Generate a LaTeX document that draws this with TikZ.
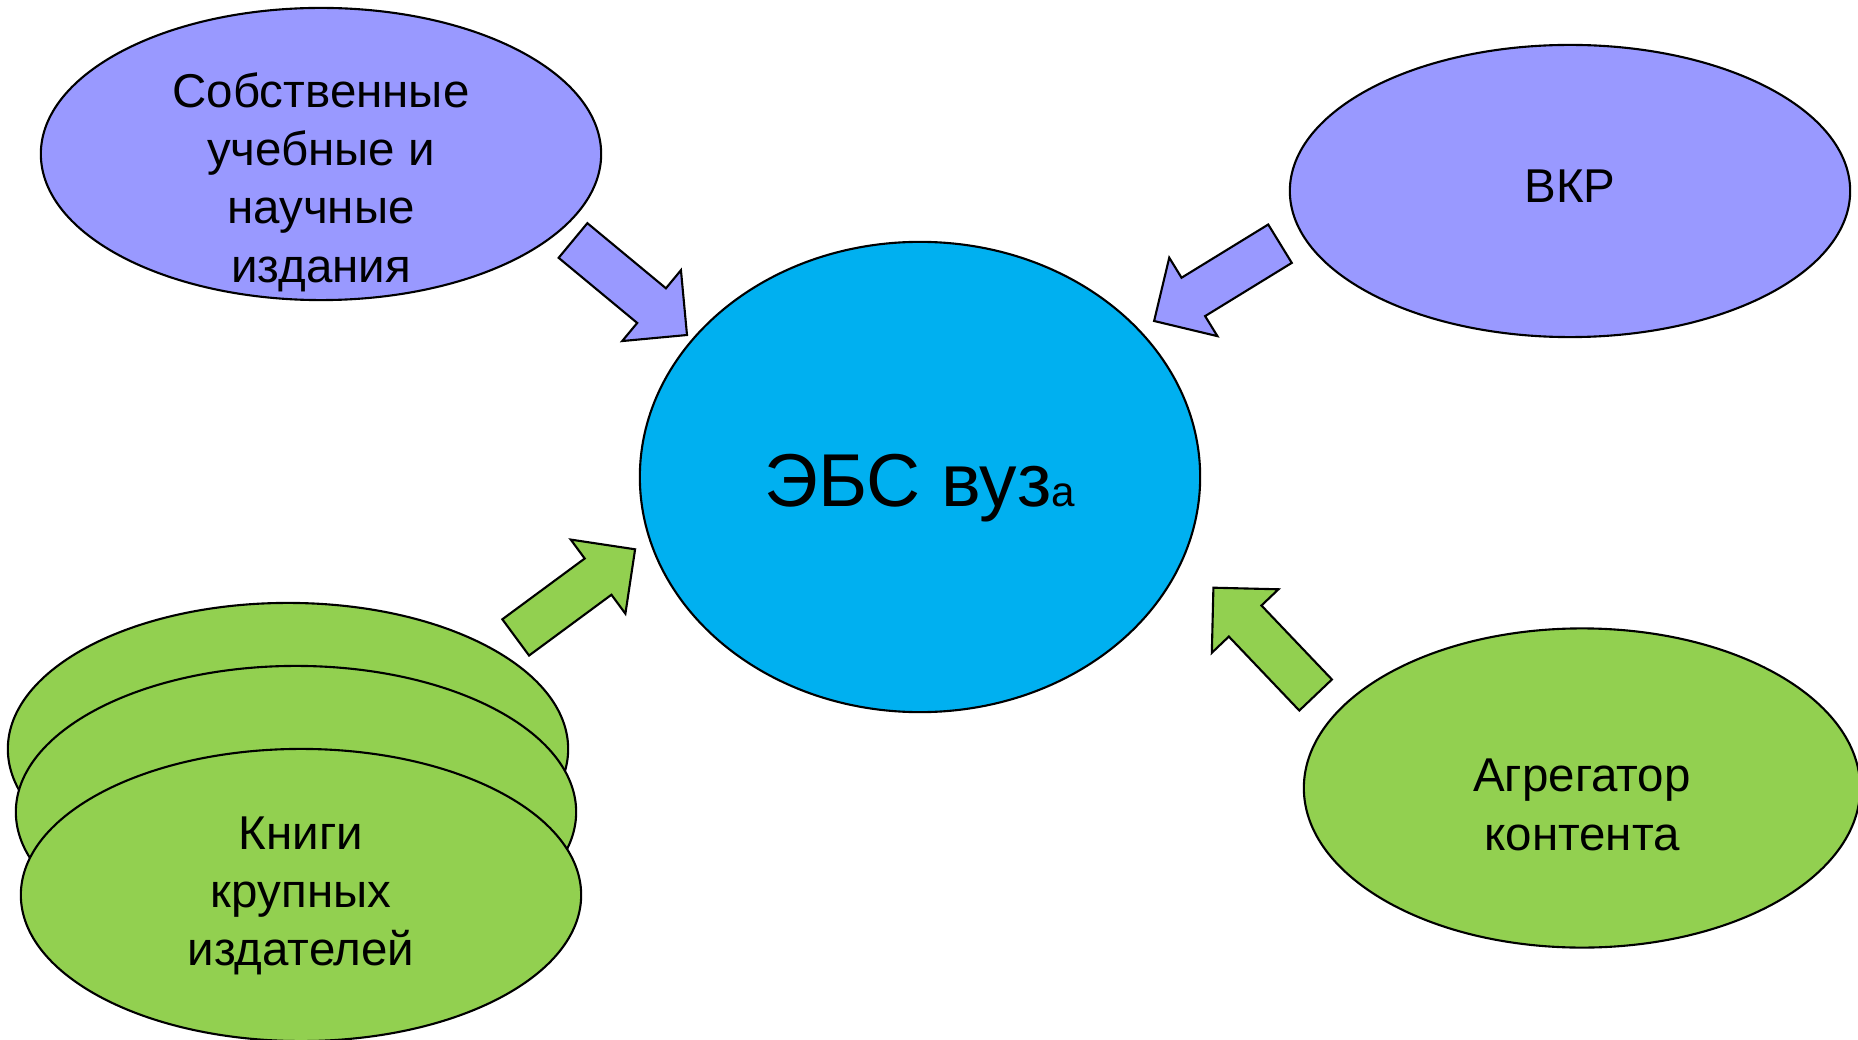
\documentclass[tikz,border=0pt]{standalone}
\usepackage{fontspec}
\setmainfont{Liberation Sans}
\usetikzlibrary{shapes.geometric,calc}

\definecolor{srcviolet}{HTML}{9999FF}
\definecolor{ebsblue}{HTML}{00B0F0}
\definecolor{extgreen}{HTML}{92D050}

\newcommand{\shaftw}{0.225cm}
\newcommand{\headw}{0.46cm}
\newcommand{\headlen}{0.46cm}
\newcommand{\blockarrow}[3]{%
  \coordinate (#2-hb) at ($(#3)!\headlen!(#2)$);
  \draw[#1] ($(#2)!\shaftw!90:(#3)$) -- ($(#2-hb)!\shaftw!-90:(#2)$)
    -- ($(#2-hb)!\headw!-90:(#2)$) -- (#3) -- ($(#2-hb)!\headw!90:(#2)$)
    -- ($(#2-hb)!\shaftw!90:(#2)$) -- ($(#2)!\shaftw!-90:(#3)$) -- cycle;}

\begin{document}
\begin{tikzpicture}[
    x=0.01cm, y=-0.01cm,
    blob/.style={ellipse, draw, line width=0.6pt, inner sep=0pt, minimum width=5.6cm, minimum height=2.92cm},
    txt/.style={align=center, font=\fontsize{13.5}{16.6}\selectfont},
    bigarrow/.style={draw, line width=0.6pt, line join=miter}
]
    \useasboundingbox (0,0) rectangle (1858,1040);

    \node[blob, fill=srcviolet] (own) at (321,154) {};
    \node[blob, fill=srcviolet] (vkr) at (1570,191) {};
    \node[blob, fill=ebsblue, minimum height=4.7cm] (ebs) at (920,477) {};
    \node[blob, fill=extgreen] (books1) at (288,749) {};
    \node[blob, fill=extgreen] (books2) at (296,812) {};
    \node[blob, fill=extgreen] (books3) at (301,895) {};
    \node[blob, fill=extgreen, minimum width=5.56cm, minimum height=3.19cm] (aggr) at (1582,788) {};

    \node[txt] (own-text) at (321,182) {Собственные\\учебные и\\научные\\издания};
    \node[txt] (vkr-text) at (1570,186) {ВКР};
    \node[txt] (ebs-text) at (920,488) {{\fontsize{21.3}{25}\selectfont ЭБС вуз}{\fontsize{12}{14}\selectfont а}};
    \node[txt] (books-text) at (301,896) {Книги\\крупных\\издателей};
    \node[txt] (aggr-text) at (1582,805) {Агрегатор\\контента};

    \coordinate (own-tail) at (573,240.5);
    \coordinate (own-tip) at (687,335);
    \coordinate (vkr-tail) at (1280,243.7);
    \coordinate (vkr-tip) at (1154.1,321);
    \coordinate (books-tail) at (515.7,637.4);
    \coordinate (books-tip) at (635.1,549.3);
    \coordinate (aggr-tail) at (1315.6,695);
    \coordinate (aggr-tip) at (1213.4,587.7);

    \blockarrow{bigarrow, fill=srcviolet}{own-tail}{own-tip}
    \blockarrow{bigarrow, fill=srcviolet}{vkr-tail}{vkr-tip}
    \blockarrow{bigarrow, fill=extgreen}{books-tail}{books-tip}
    \blockarrow{bigarrow, fill=extgreen}{aggr-tail}{aggr-tip}
\end{tikzpicture}
\end{document}
